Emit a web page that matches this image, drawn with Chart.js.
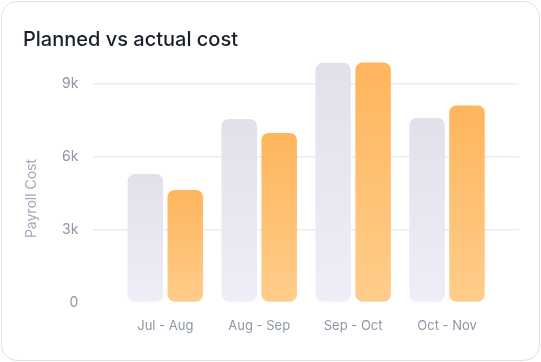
<!DOCTYPE html>
<html>
<head>
<meta charset="utf-8">
<script src="https://cdn.jsdelivr.net/npm/chart.js@4"></script>
<style>
  body { margin: 0; background: #ffffff; }
  .wrap { position: relative; width: 541px; height: 362px; }
  .card {
    position: absolute; left: 1px; top: 1px; width: 539px; height: 360px;
    box-sizing: border-box; border: 1px solid #dde1e7; border-radius: 16px;
  }
  #costChart { position: absolute; left: 0; top: 0; }
</style>
</head>
<body>
<div class="wrap">
  <div class="card"></div>
  <canvas id="costChart" width="541" height="362"></canvas>
</div>
<script>
const periods = ["Jul - Aug", "Aug - Sep", "Sep - Oct", "Oct - Nov"];
const plannedCost = [5280, 7540, 9850, 7580];
const actualCost = [4620, 6970, 9860, 8100];
const yTicks = [0, 3000, 6000, 9000];

Chart.defaults.font.family = "Inter, 'Noto Sans', sans-serif";

const gridColor = "#ebebf1";
const labelColor = "#8d95a7";

// vertical gradient per bar, from its top down to zero
function barGradient(topColor, bottomColor) {
    return function(ctx) {
        const chart = ctx.chart;
        if (!chart.chartArea || ctx.type !== 'data') return topColor;
        const y = chart.scales.y;
        const g = chart.ctx.createLinearGradient(0, y.getPixelForValue(ctx.raw), 0, y.getPixelForValue(0));
        g.addColorStop(0, topColor);
        g.addColorStop(1, bottomColor);
        return g;
    };
}

function lineColor(ctx) {
    return ctx.tick && ctx.tick.value === 0 ? 'rgba(0,0,0,0)' : gridColor;
}

function useTicks(axis) {
    axis.ticks = yTicks.map(v => ({ value: v }));
}

const config = {
    type: 'bar',
    data: {
        labels: periods,
        datasets: [
            {
                label: "Planned",
                data: plannedCost,
                backgroundColor: barGradient("#e3e0ec", "#efedf7"),
                borderRadius: 7,
                borderSkipped: false,
                categoryPercentage: 0.85,
                barPercentage: 0.89
            },
            {
                label: "Actual",
                data: actualCost,
                backgroundColor: barGradient("#ffb55c", "#ffcd8b"),
                borderRadius: 7,
                borderSkipped: false,
                categoryPercentage: 0.85,
                barPercentage: 0.89
            }
        ]
    },
    options: {
        responsive: false,
        animation: false,
        layout: {
            padding: { left: 23, right: 22, top: 0, bottom: 12 }
        },
        plugins: {
            legend: { display: false },
            tooltip: { enabled: false },
            title: {
                display: true,
                text: "Planned vs actual cost",
                align: 'start',
                color: "#1a1f2c",
                font: { size: 20, weight: '500' },
                padding: { top: 27.5, bottom: 7.7 }
            }
        },
        scales: {
            x: {
                grid: { display: false, drawTicks: false },
                border: { display: false },
                ticks: {
                    color: labelColor,
                    font: { size: 13 },
                    padding: 16
                }
            },
            y: {
                min: 0,
                max: 10000,
                afterBuildTicks: useTicks,
                border: { display: false },
                grid: {
                    color: lineColor,
                    lineWidth: 1.5,
                    drawTicks: true,
                    tickLength: 25
                },
                ticks: {
                    color: labelColor,
                    font: { size: 14 },
                    padding: 15,
                    callback: function(value) {
                        return value === 0 ? '0' : (value / 1000) + 'k';
                    }
                },
                title: {
                    display: true,
                    text: "Payroll Cost         ",
                    color: "#a0a8b8",
                    font: { size: 14 },
                    padding: { top: 0.3, bottom: 6.9 }
                }
            },
            // right-hand axis only to carry the grid lines past the bars
            y2: {
                position: 'right',
                min: 0,
                max: 10000,
                afterBuildTicks: useTicks,
                border: { display: false },
                grid: {
                    color: lineColor,
                    lineWidth: 1.5,
                    drawOnChartArea: false,
                    drawTicks: true,
                    tickLength: 25
                },
                ticks: { display: false }
            }
        }
    }
};

const costChart = new Chart(document.getElementById('costChart'), config);
</script>
</body>
</html>
